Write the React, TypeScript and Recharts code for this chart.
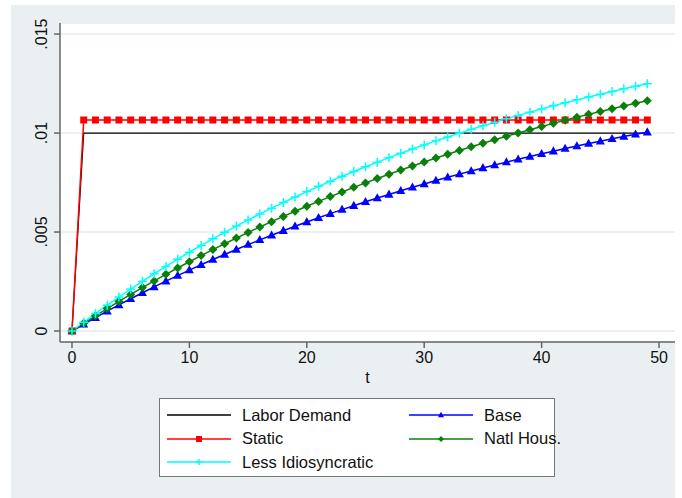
import { LineChart, Line, XAxis, YAxis, CartesianGrid } from 'recharts'

// t = 0..49
const periods = Array.from({ length: 50 }, (_, i) => i)

const laborDemand = [
  0, 0.01, 0.01, 0.01, 0.01, 0.01, 0.01, 0.01, 0.01, 0.01,
  0.01, 0.01, 0.01, 0.01, 0.01, 0.01, 0.01, 0.01, 0.01, 0.01,
  0.01, 0.01, 0.01, 0.01, 0.01, 0.01, 0.01, 0.01, 0.01, 0.01,
  0.01, 0.01, 0.01, 0.01, 0.01, 0.01, 0.01, 0.01, 0.01, 0.01,
  0.01, 0.01, 0.01, 0.01, 0.01, 0.01, 0.01, 0.01, 0.01, 0.01,
]

const staticSeries = [
  0, 0.01066, 0.01066, 0.01066, 0.01066, 0.01066, 0.01066, 0.01066, 0.01066, 0.01066,
  0.01066, 0.01066, 0.01066, 0.01066, 0.01066, 0.01066, 0.01066, 0.01066, 0.01066, 0.01066,
  0.01066, 0.01066, 0.01066, 0.01066, 0.01066, 0.01066, 0.01066, 0.01066, 0.01066, 0.01066,
  0.01066, 0.01066, 0.01066, 0.01066, 0.01066, 0.01066, 0.01066, 0.01066, 0.01066, 0.01066,
  0.01066, 0.01066, 0.01066, 0.01066, 0.01066, 0.01066, 0.01066, 0.01066, 0.01066, 0.01066,
]

const base = [
  0, 0.000341, 0.000674, 0.001, 0.001317, 0.001628, 0.001931, 0.002227, 0.002517, 0.002799,
  0.003076, 0.003345, 0.003609, 0.003866, 0.004117, 0.004363, 0.004603, 0.004837, 0.005066, 0.005289,
  0.005508, 0.005721, 0.005929, 0.006133, 0.006331, 0.006526, 0.006715, 0.0069, 0.007081, 0.007258,
  0.007431, 0.007599, 0.007764, 0.007925, 0.008082, 0.008236, 0.008386, 0.008532, 0.008675, 0.008815,
  0.008952, 0.009085, 0.009215, 0.009343, 0.009467, 0.009588, 0.009707, 0.009823, 0.009936, 0.010046,
]

const natlHous = [
  0, 0.000386, 0.000764, 0.001133, 0.001494, 0.001847, 0.002193, 0.002531, 0.002861, 0.003184,
  0.0035, 0.003809, 0.004111, 0.004407, 0.004695, 0.004978, 0.005254, 0.005525, 0.005789, 0.006047,
  0.0063, 0.006547, 0.006789, 0.007025, 0.007256, 0.007482, 0.007704, 0.00792, 0.008131, 0.008338,
  0.00854, 0.008738, 0.008931, 0.00912, 0.009305, 0.009486, 0.009663, 0.009836, 0.010005, 0.01017,
  0.010332, 0.01049, 0.010645, 0.010796, 0.010944, 0.011089, 0.01123, 0.011369, 0.011504, 0.011636,
]

const lessIdio = [
  0, 0.000446, 0.000881, 0.001305, 0.001717, 0.002119, 0.002511, 0.002892, 0.003264, 0.003626,
  0.003979, 0.004323, 0.004658, 0.004984, 0.005301, 0.005611, 0.005912, 0.006206, 0.006492, 0.006771,
  0.007043, 0.007308, 0.007565, 0.007816, 0.008061, 0.008299, 0.008531, 0.008758, 0.008978, 0.009193,
  0.009402, 0.009606, 0.009804, 0.009997, 0.010186, 0.010369, 0.010548, 0.010723, 0.010892, 0.011057,
  0.011219, 0.011375, 0.011528, 0.011677, 0.011822, 0.011963, 0.012101, 0.012235, 0.012366, 0.012493,
]

const xTicks = [0, 10, 20, 30, 40, 50]
const yTicks = [0, 0.005, 0.01, 0.015]

const data = periods.map((t, i) => ({
  t,
  labor: laborDemand[i],
  stat: staticSeries[i],
  base: base[i],
  natl: natlHous[i],
  less: lessIdio[i],
}))

const FONT = '"Liberation Sans", Arial, Helvetica, sans-serif'
const AXIS = '#666'
const RED = '#ff0000'
const BLUE = '#0000ff'
const GREEN = '#0a800a'
const CYAN = '#00ffff'

const fmtY = (v: number) => (v === 0 ? '0' : String(v).replace(/^0/, ''))

function YTick({ x, y, payload }: any) {
  const bx = x - 5
  return (
    <text x={bx} y={y} transform={`rotate(-90, ${bx}, ${y})`} textAnchor="middle"
      fontSize={16} fontFamily={FONT} fill="#111">
      {fmtY(payload.value)}
    </text>
  )
}

// marker shapes
function square(cx: number, cy: number, s: number, key?: string) {
  return <rect key={key} x={cx - s / 2} y={cy - s / 2} width={s} height={s} fill={RED} />
}
function triangle(cx: number, cy: number, s: number, key?: string) {
  const h = s * 0.9
  return <polygon key={key} points={`${cx},${cy - h * 0.6} ${cx - s / 2},${cy + h * 0.4} ${cx + s / 2},${cy + h * 0.4}`} fill={BLUE} />
}
function diamond(cx: number, cy: number, s: number, key?: string) {
  const r = s / 2
  return <polygon key={key} points={`${cx},${cy - r} ${cx + r},${cy} ${cx},${cy + r} ${cx - r},${cy}`} fill={GREEN} />
}
function plus(cx: number, cy: number, s: number, key?: string) {
  const r = s / 2
  return (
    <path key={key} d={`M${cx - r},${cy}H${cx + r}M${cx},${cy - r}V${cy + r}`} stroke={CYAN} strokeWidth={1.5} fill="none" />
  )
}

const dotFn = (shape: typeof square, s: number, name: string) => (p: any) => {
  if (p.cx == null || p.cy == null) return <g key={`${name}-${p.index}`} />
  return shape(p.cx, p.cy, s, `${name}-${p.index}`)
}

const legendItems = [
  { name: 'Labor Demand', color: '#000', shape: null, col: 0, row: 0 },
  { name: 'Base', color: BLUE, shape: triangle, col: 1, row: 0 },
  { name: 'Static', color: RED, shape: square, col: 0, row: 1 },
  { name: 'Natl Hous.', color: GREEN, shape: diamond, col: 1, row: 1 },
  { name: 'Less Idiosyncratic', color: CYAN, shape: plus, col: 0, row: 2 },
]

export default function App() {
  return (
    <div style={{ position: 'absolute', left: 0, top: 0, width: 682, height: 498, background: '#fff', fontFamily: FONT }}>
      <div style={{ position: 'absolute', left: 11, top: 5, width: 664, height: 493, background: '#eaf0f2' }} />
      <div style={{ position: 'absolute', left: 0, top: 0 }}>
        <LineChart width={682} height={498} data={data} margin={{ top: 23, right: 7, bottom: 111, left: 10 }}>
          <CartesianGrid vertical={false} fill="#fff" stroke="#e3ecee" strokeWidth={1.5} />
          <XAxis
            dataKey="t"
            type="number"
            domain={[-1.02, 51.36]}
            allowDataOverflow
            ticks={xTicks}
            height={45}
            stroke={AXIS}
            axisLine={{ stroke: AXIS, strokeWidth: 1.5 }}
            tickLine={{ stroke: AXIS, strokeWidth: 1.5 }}
            tickSize={6}
            tickMargin={4}
            tick={{ fill: '#111', fontSize: 16, fontFamily: FONT }}
            label={{ value: 't', position: 'insideBottom', offset: 4, fill: '#111', fontSize: 16, fontFamily: FONT }}
          />
          <YAxis
            type="number"
            domain={[-0.000556, 0.01556]}
            allowDataOverflow
            ticks={yTicks}
            width={50}
            axisLine={{ stroke: AXIS, strokeWidth: 1.5 }}
            tickLine={{ stroke: AXIS, strokeWidth: 1.5 }}
            tickSize={6}
            tickMargin={2}
            tick={<YTick />}
          />
          <Line dataKey="labor" stroke="#000" strokeWidth={1.2} dot={false} activeDot={false} isAnimationActive={false} />
          <Line dataKey="base" stroke={BLUE} strokeWidth={1.5} dot={dotFn(triangle, 9, 'b')} activeDot={false} isAnimationActive={false} />
          <Line dataKey="stat" stroke={RED} strokeWidth={1.5} dot={dotFn(square, 7, 's')} activeDot={false} isAnimationActive={false} />
          <Line dataKey="natl" stroke={GREEN} strokeWidth={1.5} dot={dotFn(diamond, 9, 'n')} activeDot={false} isAnimationActive={false} />
          <Line dataKey="less" stroke={CYAN} strokeWidth={1.5} dot={dotFn(plus, 9, 'l')} activeDot={false} isAnimationActive={false} />
        </LineChart>
      </div>
      <div style={{ position: 'absolute', left: 159, top: 398, width: 394, height: 77, background: '#fff', border: '1px solid #777' }}>
        {legendItems.map((it) => (
          <div key={it.name} style={{
            position: 'absolute', left: it.col === 0 ? 7 : 249, top: 16 + it.row * 23.7 - 11, height: 22,
            display: 'flex', alignItems: 'center',
          }}>
            <svg width={64} height={12} style={{ display: 'block' }}>
              <line x1={0} y1={6} x2={64} y2={6} stroke={it.color} strokeWidth={1.5} />
              {it.shape ? it.shape(32, 6, 6) : null}
            </svg>
            <span style={{ marginLeft: 11, fontSize: 16.5, color: '#111', whiteSpace: 'nowrap' }}>{it.name}</span>
          </div>
        ))}
      </div>
    </div>
  )
}
